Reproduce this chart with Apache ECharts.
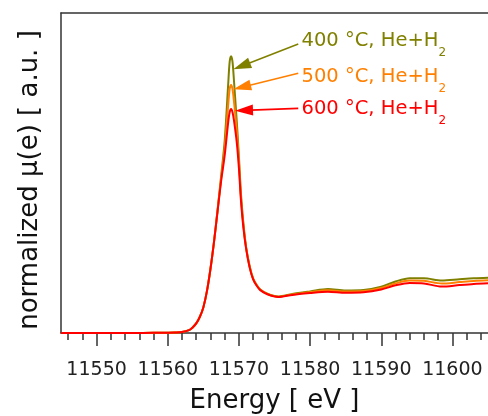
<!DOCTYPE html>
<html><head><meta charset="utf-8">
<script src="https://cdn.jsdelivr.net/npm/echarts@6/dist/echarts.min.js"></script>
<style>html,body{margin:0;padding:0;background:#fff}#c{width:488px;height:416px}</style>
</head><body><div id="c"></div>
<script>
const energy = [11545, 11550, 11555, 11558, 11560, 11561, 11562, 11563, 11563.5, 11564, 11564.5, 11565, 11565.5, 11566, 11566.5, 11567, 11567.5, 11568, 11568.5, 11568.7, 11568.9, 11569.1, 11569.3, 11569.7, 11570, 11570.3, 11570.6, 11571, 11571.5, 11572, 11572.5, 11573, 11574, 11575.5, 11577.5, 11580, 11582.5, 11585, 11587.5, 11590, 11592, 11594, 11596, 11598.5, 11601, 11603, 11605];
const mu400 = [0, 0, 0, 0.001, 0.002, 0.003, 0.006, 0.018, 0.035, 0.06, 0.10, 0.16, 0.26, 0.40, 0.57, 0.77, 0.98, 1.2, 1.56, 1.695, 1.73, 1.695, 1.58, 1.32, 1.10, 0.86, 0.70, 0.54, 0.42, 0.34, 0.30, 0.272, 0.245, 0.228, 0.244, 0.26, 0.275, 0.266, 0.269, 0.29, 0.322, 0.342, 0.342, 0.328, 0.336, 0.342, 0.346];
const mu500 = [0, 0, 0, 0.001, 0.002, 0.003, 0.006, 0.018, 0.035, 0.06, 0.10, 0.16, 0.26, 0.40, 0.57, 0.765, 0.965, 1.15, 1.43, 1.525, 1.55, 1.525, 1.45, 1.26, 1.07, 0.84, 0.685, 0.535, 0.415, 0.338, 0.298, 0.27, 0.244, 0.227, 0.241, 0.255, 0.267, 0.259, 0.262, 0.281, 0.31, 0.328, 0.326, 0.309, 0.318, 0.325, 0.329];
const mu600 = [0, 0, 0, 0.001, 0.002, 0.003, 0.006, 0.018, 0.035, 0.06, 0.10, 0.16, 0.26, 0.40, 0.57, 0.76, 0.95, 1.11, 1.32, 1.38, 1.40, 1.38, 1.33, 1.19, 1.03, 0.82, 0.67, 0.53, 0.41, 0.335, 0.295, 0.268, 0.242, 0.225, 0.238, 0.25, 0.258, 0.251, 0.254, 0.272, 0.298, 0.313, 0.31, 0.29, 0.30, 0.307, 0.311];
const seriesNames = ['400 °C, He+H', '500 °C, He+H', '600 °C, He+H'];
const subscript = '2';
const xTickValues = [11550, 11560, 11570, 11580, 11590, 11600];
const labelPos = [[11578.8, 1.824], [11578.8, 1.60], [11578.8, 1.40]];
const arrowStart = [[11578.34, 1.806], [11578.34, 1.623], [11578.34, 1.404]];
const arrowTip = [[11569.21, 1.648], [11569.21, 1.523], [11569.45, 1.389]];

const colors = ['#808000', '#ff8000', '#ff0000'];
const FONT = 'DejaVu Sans';
const xMin = 11545, xMax = 11605;
const minorTicks = [];
for (let v = 11546; v <= xMax; v += 2) minorTicks.push(v);

const chart = echarts.init(document.getElementById('c'));
const seriesData = [mu400, mu500, mu600].map(arr => energy.map((e, i) => [e, arr[i]]));

function renderItem(params, api) {
  const i = params.dataIndex;
  const s = api.coord(arrowStart[i]);
  const t = api.coord(arrowTip[i]);
  const l = api.coord(labelPos[i]);
  const dx = t[0] - s[0], dy = t[1] - s[1];
  const len = Math.hypot(dx, dy);
  const ux = dx / len, uy = dy / len;
  const headLen = 18, headHalf = 5.5;
  const bx = t[0] - ux * headLen, by = t[1] - uy * headLen;
  const nx = -uy, ny = ux;
  return {
    type: 'group',
    children: [
      { type: 'line', shape: { x1: s[0], y1: s[1], x2: bx + ux * 2, y2: by + uy * 2 }, style: { stroke: colors[i], lineWidth: 1.6 } },
      { type: 'polygon', shape: { points: [[t[0], t[1]], [bx + nx * headHalf, by + ny * headHalf], [bx - nx * headHalf, by - ny * headHalf]] }, style: { fill: colors[i] } },
      { type: 'text', x: l[0], y: l[1], style: {
          text: '{m|' + seriesNames[i] + '}{s|' + subscript + '}',
          align: 'left', verticalAlign: 'middle',
          rich: {
            m: { fontSize: 19.5, fontFamily: FONT, fill: colors[i], lineHeight: 36, verticalAlign: 'middle' },
            s: { fontSize: 12, fontFamily: FONT, fill: colors[i], lineHeight: 12, verticalAlign: 'bottom' }
          }
        } }
    ]
  };
}

chart.setOption({
  animation: false,
  backgroundColor: '#fff',
  grid: { left: 61, top: 13, right: 0, bottom: 83, outerBoundsMode: 'none' },
  xAxis: [
    {
      type: 'value', min: xMin, max: xMax, position: 'bottom',
      axisLine: { show: true, lineStyle: { color: '#333', width: 1.5 } },
      axisTick: { show: true, customValues: xTickValues, length: 13, lineStyle: { color: '#333', width: 1.5 } },
      axisLabel: { show: true, customValues: xTickValues, margin: 28, fontSize: 19, fontFamily: FONT, color: '#222', formatter: v => String(v) },
      splitLine: { show: false },
      name: 'Energy [ eV ]', nameLocation: 'middle', nameGap: 55,
      nameTextStyle: { fontSize: 26, fontFamily: FONT, color: '#111' }
    },
    {
      type: 'value', min: xMin, max: xMax, position: 'bottom',
      axisLine: { show: false },
      axisTick: { show: true, customValues: minorTicks, length: 7, lineStyle: { color: '#333', width: 1.5 } },
      axisLabel: { show: false }, splitLine: { show: false }
    },
    {
      type: 'value', min: xMin, max: xMax, position: 'top',
      axisLine: { show: true, lineStyle: { color: '#333', width: 1.5 } },
      axisTick: { show: false }, axisLabel: { show: false }, splitLine: { show: false }
    }
  ],
  yAxis: {
    type: 'value', min: 0, max: 2,
    axisLine: { show: true, lineStyle: { color: '#333', width: 1.5 } },
    axisTick: { show: false }, axisLabel: { show: false }, splitLine: { show: false },
    name: 'normalized μ(e) [ a.u. ]', nameLocation: 'middle', nameGap: 18,
    nameTextStyle: { fontSize: 26, fontFamily: FONT, color: '#111', padding: [0, 14, 0, 0] }
  },
  series: [
    ...seriesData.map((d, i) => ({
      type: 'line', name: seriesNames[i] + subscript, data: d, xAxisIndex: 0,
      showSymbol: false, smooth: 0.3, lineStyle: { color: colors[i], width: 2 }, z: 2 + i
    })),
    { type: 'custom', coordinateSystem: 'cartesian2d', xAxisIndex: 0, renderItem: renderItem,
      data: labelPos.map((p, i) => [p[0], p[1], i]), clip: false, silent: true, z: 10 }
  ]
});
</script></body></html>
